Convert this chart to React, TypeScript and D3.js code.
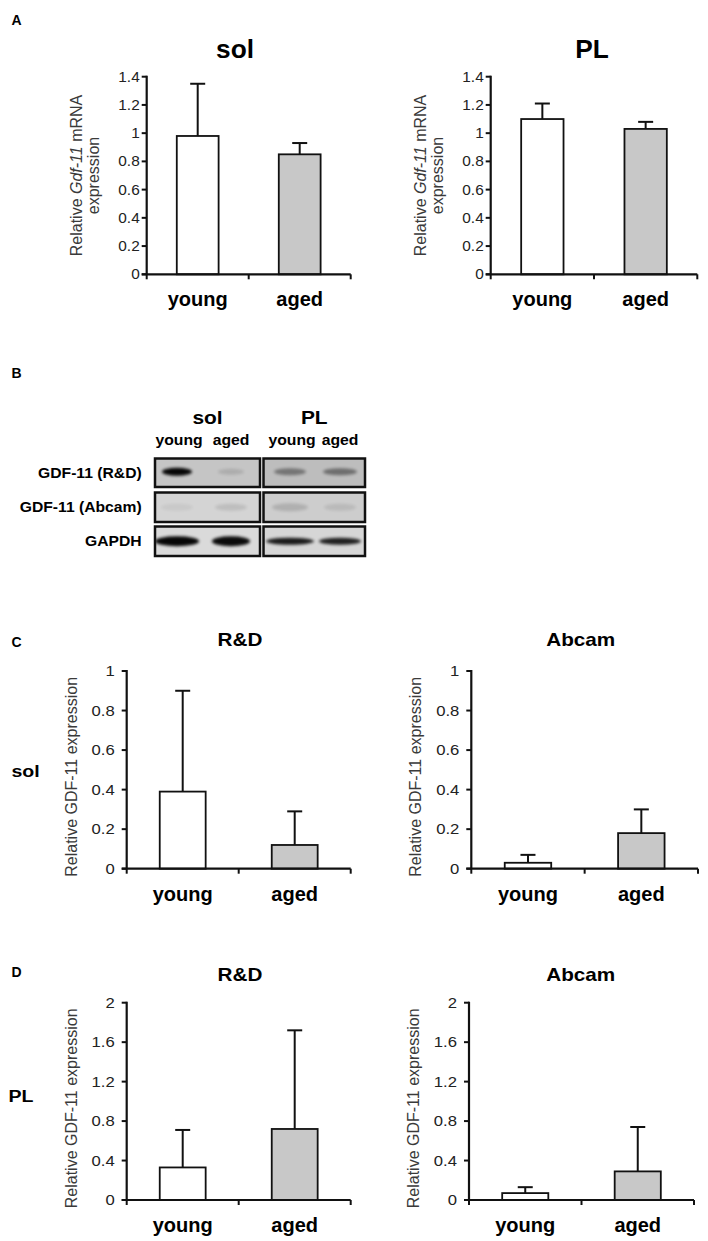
import React from "react";
import * as d3 from "d3";

// ---------- data ----------
const groups = ["young", "aged"];

// Panel A: relative Gdf-11 mRNA expression (mean, SD)
const mrnaSolMean = [0.98, 0.85];
const mrnaSolErr = [0.37, 0.08];
const mrnaPLMean = [1.1, 1.03];
const mrnaPLErr = [0.11, 0.05];
const mrnaTicks = [0, 0.2, 0.4, 0.6, 0.8, 1, 1.2, 1.4];

// Panel C: sol, relative GDF-11 protein expression
const solRDMean = [0.39, 0.12];
const solRDErr = [0.51, 0.17];
const solAbcamMean = [0.03, 0.18];
const solAbcamErr = [0.04, 0.12];
const solTicks = [0, 0.2, 0.4, 0.6, 0.8, 1];

// Panel D: PL, relative GDF-11 protein expression
const plRDMean = [0.33, 0.72];
const plRDErr = [0.38, 1.0];
const plAbcamMean = [0.07, 0.29];
const plAbcamErr = [0.06, 0.45];
const plTicks = [0, 0.4, 0.8, 1.2, 1.6, 2];

// Panel B: western blot (band intensities per lane)
const blotMuscles = ["sol", "PL"];
const blotRows = ["GDF-11 (R&D)", "GDF-11 (Abcam)", "GAPDH"];
const blotLaneIntensity = [
  [0.97, 0.12, 0.38, 0.42],
  [0.05, 0.1, 0.14, 0.09],
  [0.97, 0.95, 0.88, 0.85],
];

const barFills = ["#ffffff", "#c8c8c8"];

// ---------- layout ----------
type Cfg = {
  mean: number[];
  err: number[];
  ticks: number[];
  x0: number;
  x1: number;
  yTop: number;
  yBot: number;
  kind: "A" | "C";
  title: string;
  titleX: number;
  titleY: number;
};

const charts: Cfg[] = [
  { mean: mrnaSolMean, err: mrnaSolErr, ticks: mrnaTicks, x0: 146.7, x1: 350.7, yTop: 76.7, yBot: 274.3, kind: "A", title: "sol", titleX: 235, titleY: 58 },
  { mean: mrnaPLMean, err: mrnaPLErr, ticks: mrnaTicks, x0: 490.7, x1: 697.3, yTop: 76.7, yBot: 274.3, kind: "A", title: "PL", titleX: 592, titleY: 57.5 },
  { mean: solRDMean, err: solRDErr, ticks: solTicks, x0: 126.7, x1: 350.7, yTop: 671, yBot: 868.7, kind: "C", title: "R&D", titleX: 240, titleY: 646 },
  { mean: solAbcamMean, err: solAbcamErr, ticks: solTicks, x0: 471.3, x1: 698, yTop: 671, yBot: 868.7, kind: "C", title: "Abcam", titleX: 580.7, titleY: 646 },
  { mean: plRDMean, err: plRDErr, ticks: plTicks, x0: 126.7, x1: 350.7, yTop: 1002.7, yBot: 1200, kind: "C", title: "R&D", titleX: 240, titleY: 981 },
  { mean: plAbcamMean, err: plAbcamErr, ticks: plTicks, x0: 469, x1: 694, yTop: 1002.7, yBot: 1200, kind: "C", title: "Abcam", titleX: 580.7, titleY: 981 },
];

const FONT = "'Liberation Sans', Arial, Helvetica, sans-serif";

function T(props: {
  x: number; y: number; size: number; sx?: number; bold?: boolean;
  anchor?: "start" | "middle" | "end"; fill?: string; children: React.ReactNode;
}) {
  const { x, y, size, sx = 1, bold = false, anchor = "middle", fill = "#000", children } = props;
  return (
    <text
      transform={`translate(${x},${y}) scale(${sx},1)`}
      fontSize={size}
      fontFamily={FONT}
      fontWeight={bold ? "bold" : "normal"}
      textAnchor={anchor}
      fill={fill}
    >
      {children}
    </text>
  );
}

function BarChart({ c }: { c: Cfg }) {
  const ymax = c.ticks[c.ticks.length - 1];
  const y = d3.scaleLinear().domain([0, ymax]).range([c.yBot, c.yTop]);
  const x = d3.scaleBand().domain(groups).range([c.x0, c.x1]).paddingInner(0.59).paddingOuter(0.295);
  const isA = c.kind === "A";
  const tickSize = isA ? 14 : 14.5;
  const tickSx = isA ? 1.1 : 1.15;
  const tickGap = isA ? 7 : 12;
  const fmt = (v: number) => String(+v.toFixed(2));
  const mid = (c.yTop + c.yBot) / 2;
  const xMid = (c.x0 + c.x1) / 2;
  return (
    <g>
      {/* title */}
      <T x={c.titleX} y={c.titleY} size={isA ? 25 : 18} sx={isA ? 1.05 : 1.15} bold>
        {c.title}
      </T>
      {/* y tick labels */}
      {c.ticks.map((t) => (
        <T key={t} x={c.x0 - tickGap} y={y(t) + tickSize * 0.36} size={tickSize} sx={tickSx} anchor="end" fill="#222">
          {fmt(t)}
        </T>
      ))}
      {/* y ticks */}
      {c.ticks.map((t) => (
        <line key={"tk" + t} x1={c.x0 - 5} x2={c.x0} y1={y(t)} y2={y(t)} stroke="#111" strokeWidth={2} />
      ))}
      {/* y label */}
      {isA ? (
        <g>
          <text transform={`translate(${c.x0 - 65},${mid}) rotate(-90)`} fontSize={16} fontFamily={FONT} textAnchor="middle" fill="#3a3a3a">
            Relative <tspan fontStyle="italic">Gdf-11</tspan> mRNA
          </text>
          <text transform={`translate(${c.x0 - 48},${mid}) rotate(-90)`} fontSize={16} fontFamily={FONT} textAnchor="middle" fill="#3a3a3a">
            expression
          </text>
        </g>
      ) : (
        <text transform={`translate(${c.x0 - 50},${mid + 7}) rotate(-90)`} fontSize={16} fontFamily={FONT} textAnchor="middle" fill="#3a3a3a">
          Relative GDF-11 expression
        </text>
      )}
      {/* bars */}
      {groups.map((g, i) => {
        const bx = x(g)!;
        const bw = x.bandwidth();
        const cx = bx + bw / 2;
        const top = y(c.mean[i]);
        const etop = y(c.mean[i] + c.err[i]);
        return (
          <g key={g}>
            <line x1={cx} x2={cx} y1={top} y2={etop} stroke="#111" strokeWidth={2} />
            <line x1={cx - 7.5} x2={cx + 7.5} y1={etop} y2={etop} stroke="#111" strokeWidth={2} />
            <rect x={bx} y={top} width={bw} height={c.yBot - top} fill={barFills[i]} stroke="#111" strokeWidth={1.8} />
          </g>
        );
      })}
      {/* axes */}
      <line x1={c.x0} x2={c.x0} y1={c.yTop - 1} y2={c.yBot} stroke="#111" strokeWidth={2.2} />
      <line x1={c.x0 - 5} x2={c.x1} y1={c.yBot} y2={c.yBot} stroke="#111" strokeWidth={2.2} />
      {[c.x0, xMid, c.x1].map((tx, i) => (
        <line key={"xt" + i} x1={tx} x2={tx} y1={c.yBot} y2={c.yBot + 5} stroke="#111" strokeWidth={2} />
      ))}
      {/* x labels */}
      {groups.map((g) => (
        <T key={"xl" + g} x={x(g)! + x.bandwidth() / 2} y={c.yBot + 32} size={20} bold>
          {g}
        </T>
      ))}
    </g>
  );
}

// blot geometry
const blotBoxes = [
  { x0: 155, x1: 260, lanes: [177, 231] },
  { x0: 263.5, x1: 365, lanes: [290, 340] },
];
const blotRowY = [
  [458.5, 487],
  [492.5, 522],
  [526.5, 556],
];
const blotBg = [
  ["#c5c5c5", "#bdbdbd"],
  ["#d4d4d4", "#cdcdcd"],
  ["#dadada", "#d6d6d6"],
];
const bandW = [
  [30, 26, 32, 34],
  [32, 32, 36, 32],
  [44, 38, 48, 42],
];
const bandH = [
  [8, 6, 7, 7],
  [7, 7, 8, 7],
  [10, 10, 7, 7],
];

function Blot() {
  return (
    <g>
      <defs>
        <filter id="blur" x="-50%" y="-50%" width="200%" height="200%">
          <feGaussianBlur stdDeviation={1.8} />
        </filter>
        {blotRowY.map((ry, r) =>
          blotBoxes.map((b, k) => (
            <clipPath id={`clip${r}${k}`} key={`c${r}${k}`}>
              <rect x={b.x0} y={ry[0]} width={b.x1 - b.x0} height={ry[1] - ry[0]} />
            </clipPath>
          ))
        )}
      </defs>
      {blotMuscles.map((m, k) => (
        <T key={m} x={(blotBoxes[k].x0 + blotBoxes[k].x1) / 2 - (k === 0 ? 0 : 0)} y={423.5} size={19} sx={1.1} bold>
          {m}
        </T>
      ))}
      {blotMuscles.map((m, k) =>
        groups.map((g, j) => (
          <T key={m + g} x={blotBoxes[k].lanes[j] + (j === 0 ? 2 : 0)} y={445} size={15} sx={1.05} bold>
            {g}
          </T>
        ))
      )}
      {blotRows.map((lab, r) => (
        <T key={lab} x={141.7} y={(blotRowY[r][0] + blotRowY[r][1]) / 2 + 5} size={14} sx={1.12} bold anchor="end">
          {lab}
        </T>
      ))}
      {blotRowY.map((ry, r) =>
        blotBoxes.map((b, k) => (
          <g key={`b${r}${k}`}>
            <rect x={b.x0} y={ry[0]} width={b.x1 - b.x0} height={ry[1] - ry[0]} fill={blotBg[r][k]} />
            <g clipPath={`url(#clip${r}${k})`}>
              {b.lanes.map((lx, j) => {
                const li = k * 2 + j;
                return (
                  <ellipse
                    key={j}
                    cx={lx}
                    cy={(ry[0] + ry[1]) / 2 + (r === 0 ? -1 : 0)}
                    rx={bandW[r][li] / 2}
                    ry={bandH[r][li] / 2}
                    fill="#000"
                    opacity={blotLaneIntensity[r][li]}
                    filter="url(#blur)"
                  />
                );
              })}
            </g>
            <rect x={b.x0} y={ry[0]} width={b.x1 - b.x0} height={ry[1] - ry[0]} fill="none" stroke="#111" strokeWidth={2.5} />
          </g>
        ))
      )}
    </g>
  );
}

export default function App() {
  return (
    <svg
      width={708}
      height={1241}
      viewBox="0 0 708 1241"
      style={{ position: "absolute", left: 0, top: 0, background: "#fff" }}
    >
      <rect x={0} y={0} width={708} height={1241} fill="#fff" />
      <T x={11.5} y={25} size={14} bold anchor="start">A</T>
      <T x={11.5} y={378} size={14} bold anchor="start">B</T>
      <T x={11.5} y={646.5} size={14} bold anchor="start">C</T>
      <T x={11.5} y={976.5} size={14} bold anchor="start">D</T>
      <T x={11.5} y={776.5} size={17} sx={1.15} bold anchor="start">sol</T>
      <T x={8.5} y={1101.5} size={17} sx={1.15} bold anchor="start">PL</T>
      {charts.map((c, i) => (
        <BarChart key={i} c={c} />
      ))}
      <Blot />
    </svg>
  );
}
